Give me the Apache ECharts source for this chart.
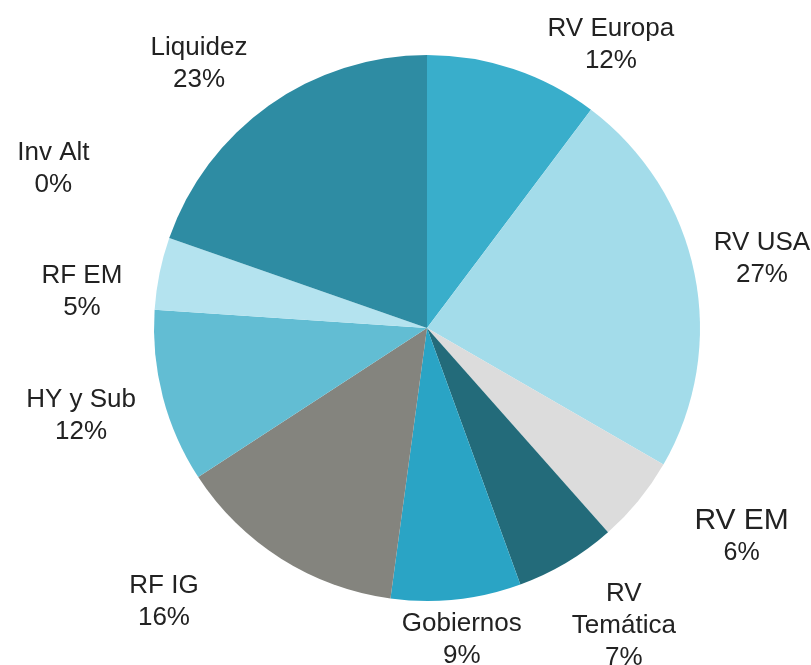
<!DOCTYPE html>
<html>
<head>
<meta charset="utf-8">
<script src="https://cdn.jsdelivr.net/npm/echarts@6/dist/echarts.min.js"></script>
<style>
  html, body { margin: 0; padding: 0; background: #fff; }
  #chart { width: 811px; height: 665px; }
</style>
</head>
<body>
<div id="chart"></div>
<script>
// categories and shares (%) as labelled in the picture
const categories = ['RV Europa', 'RV USA', 'RV EM', 'RV Temática', 'Gobiernos', 'RF IG', 'HY y Sub', 'RF EM', 'Inv Alt', 'Liquidez'];
const shares = [12, 27, 6, 7, 9, 16, 12, 5, 0, 23];
const colors = ['#39aecb', '#a3dcea', '#dcdcdc', '#236b7a', '#2aa4c5', '#84847e', '#62bdd3', '#b4e3ef', '#5a5a5a', '#2e8ca3'];

// label placement: [angle offset from slice middle (deg), distance from centre (px)]
const labelPlace = [[14.5, 338], [-0.1, 342], [-5.8, 377], [-2.7, 357], [-0.2, 314],
  [11.5, 380], [0.3, 357], [-5.5, 347], [3.8, 406], [-5.4, 349]];

const $chartDom = document.querySelector('#chart');
const chart = echarts.init($chartDom, null, { renderer: 'canvas' });

const labelText = (p) => {
  if (p.name === 'RV EM') return '{big|RV EM}\n{small|' + p.value + '%}';
  const name = p.name === 'RV Temática' ? 'RV\nTemática' : p.name;
  return name + '\n' + p.value + '%';
};

const option = {
  animation: false,
  series: [{
    type: 'pie',
    center: [427, 328],
    radius: 273,
    startAngle: 90,
    clockwise: true,
    avoidLabelOverlap: false,
    itemStyle: { borderWidth: 0 },
    label: {
      show: true,
      position: 'outside',
      formatter: labelText,
      fontFamily: 'Liberation Sans',
      fontSize: 26,
      lineHeight: 32,
      color: '#222',
      rich: {
        big: { fontFamily: 'Liberation Sans', fontSize: 30, lineHeight: 34, color: '#222' },
        small: { fontFamily: 'Liberation Sans', fontSize: 25, lineHeight: 30, color: '#222' },
      },
    },
    labelLine: { show: false },
    labelLayout: (params) => {
      const layout = chart.getModel().getSeriesByIndex(0).getData().getItemLayout(params.dataIndex);
      const place = labelPlace[params.dataIndex];
      const mid = (layout.startAngle + layout.endAngle) / 2 + place[0] * Math.PI / 180;
      return {
        x: layout.cx + place[1] * Math.cos(mid),
        y: layout.cy + place[1] * Math.sin(mid),
        align: 'center',
        verticalAlign: 'middle',
      };
    },
    data: categories.map((name, i) => ({
      name,
      value: shares[i],
      itemStyle: { color: colors[i] },
    })),
  }],
};
chart.setOption(option);
</script>
</body>
</html>
